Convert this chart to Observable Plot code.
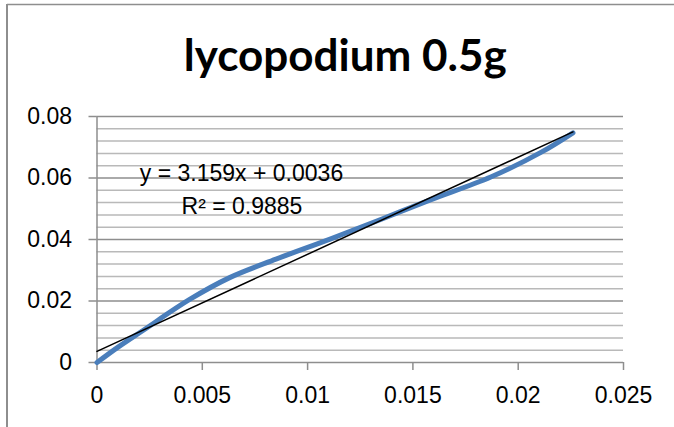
<!DOCTYPE html>
<html>
<head>
<meta charset="utf-8">
<script src="https://cdn.jsdelivr.net/npm/d3@7"></script>
<script src="https://cdn.jsdelivr.net/npm/@observablehq/plot@0.6"></script>
<style>
  html, body { margin: 0; padding: 0; background: #fff; }
  #chart svg { display: block; }
</style>
</head>
<body>
<div id="chart"></div>
<script>
// ---- data ----
const title = "lycopodium 0.5g";
const xValues = [0, 0.001, 0.0022, 0.0044, 0.0063, 0.0085, 0.0111, 0.0135, 0.0158, 0.0187, 0.0211, 0.0226];
const yValues = [0, 0.0050, 0.0105, 0.0205, 0.0276, 0.0336, 0.0402, 0.0466, 0.0528, 0.0603, 0.0684, 0.0747];
const trendSlope = 3.159;
const trendIntercept = 0.0036;
const equationLabels = ["y = 3.159x + 0.0036", "R\u00B2 = 0.9885"];
const xTicks = [0, 0.005, 0.01, 0.015, 0.02, 0.025];
const xTickLabels = ["0", "0.005", "0.01", "0.015", "0.02", "0.025"];
const yTicks = [0, 0.02, 0.04, 0.06, 0.08];
const yTickLabels = ["0", "0.02", "0.04", "0.06", "0.08"];
const yMinor = [0.004, 0.008, 0.012, 0.016, 0.024, 0.028, 0.032, 0.036, 0.044, 0.048, 0.052, 0.056, 0.064, 0.068, 0.072, 0.076];

const series = xValues.map((x, i) => ({x, y: yValues[i]}));
const xMin = d3.min(xValues), xMax = d3.max(xValues);
const trend = [xMin, xMax].map(x => ({x, y: trendSlope * x + trendIntercept}));

const bodyFont = "'Liberation Sans', Arial, sans-serif";
const titleFont = "Lato, 'Open Sans', sans-serif";

const chart = Plot.plot({
  width: 674,
  height: 427,
  marginLeft: 96.5,
  marginRight: 51,
  marginTop: 116,
  marginBottom: 65,
  style: {fontFamily: bodyFont, fontSize: "23px", color: "#000", background: "#fff"},
  x: {domain: [0, 0.025]},
  y: {domain: [0, 0.08]},
  marks: [
    Plot.ruleY(yMinor, {stroke: "#b9b9b9", strokeWidth: 1.5}),
    Plot.ruleY(yTicks, {stroke: "#8e8e8e", strokeWidth: 1.5}),
    Plot.ruleX([0], {stroke: "#8e8e8e", strokeWidth: 1.5}),
    Plot.axisY(yTicks, {tickSize: 8, tickPadding: 17, stroke: "#8e8e8e", strokeWidth: 1.5, fill: "#000",
      fontSize: 23, tickFormat: (d, i) => yTickLabels[i], label: null}),
    Plot.axisX(xTicks, {tickSize: 8, tickPadding: 16, stroke: "#8e8e8e", strokeWidth: 1.5, fill: "#000",
      fontSize: 23, tickFormat: (d, i) => xTickLabels[i], label: null}),
    Plot.line(series, {x: "x", y: "y", curve: "catmull-rom", stroke: "#4a7ebb", strokeWidth: 5,
      strokeLinecap: "round", strokeLinejoin: "round"}),
    Plot.line(trend, {x: "x", y: "y", stroke: "#000", strokeWidth: 1.5}),
    Plot.text([equationLabels[0]], {frameAnchor: "top-left", dx: 144.5, dy: 48, text: d => d,
      fontSize: 23, textAnchor: "middle", fill: "#000"}),
    Plot.text([equationLabels[1]], {frameAnchor: "top-left", dx: 145, dy: 81, text: d => d,
      fontSize: 23, textAnchor: "middle", fill: "#000"}),
    Plot.text([title], {frameAnchor: "top", dx: -15, dy: -77, text: d => d,
      fontFamily: titleFont, fontSize: 44, fontWeight: "bold", fill: "#000"})
  ]
});

// chart-area border (top and left edges visible in the reference)
const svg = d3.select(chart);
svg.append("line").attr("x1", 7).attr("x2", 674).attr("y1", 4.5).attr("y2", 4.5)
  .attr("stroke", "#8e8e8e").attr("stroke-width", 1.5);
svg.append("line").attr("x1", 7).attr("x2", 7).attr("y1", 4).attr("y2", 427)
  .attr("stroke", "#8e8e8e").attr("stroke-width", 2);

document.getElementById("chart").appendChild(chart);
</script>
</body>
</html>
